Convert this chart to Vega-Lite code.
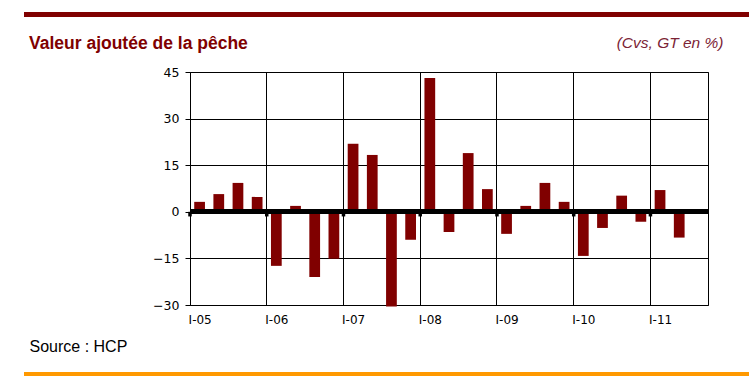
{
  "$schema": "https://vega.github.io/schema/vega-lite/v6.json",
  "background": "white",
  "padding": {"left": 24, "top": 12, "right": 0, "bottom": 0},
  "spacing": 17,
  "config": {"font": "Liberation Sans", "view": {"stroke": null}},
  "vconcat": [
    {
      "width": 725,
      "height": 5,
      "view": {"fill": "#800000", "stroke": null},
      "data": {"values": [{}]},
      "mark": {"type": "rect", "opacity": 0},
      "encoding": {}
    },
    {
      "spacing": 0,
      "hconcat": [
        {
          "width": 1,
          "height": 1,
          "view": {"stroke": null},
          "data": {"values": [{}]},
          "mark": {"type": "rect", "opacity": 0},
          "encoding": {}
        },
        {
          "width": 518,
          "height": 233,
          "view": {"stroke": "black", "strokeWidth": 1},
          "title": {
            "text": "Valeur ajoutée de la pêche",
            "anchor": "start",
            "frame": "bounds",
            "dx": 3,
            "dy": 19,
            "font": "Liberation Sans",
            "fontSize": 17.5,
            "fontWeight": "bold",
            "color": "#800000",
            "baseline": "alphabetic",
            "offset": -12
          },
          "data": {
            "values": [
              {"q": "I-05", "v": 3.2}, {"q": "II-05", "v": 5.7}, {"q": "III-05", "v": 9.3}, {"q": "IV-05", "v": 4.8},
              {"q": "I-06", "v": -17.4}, {"q": "II-06", "v": 1.9}, {"q": "III-06", "v": -21.0}, {"q": "IV-06", "v": -15.1},
              {"q": "I-07", "v": 21.9}, {"q": "II-07", "v": 18.3}, {"q": "III-07", "v": -30.5}, {"q": "IV-07", "v": -9.0},
              {"q": "I-08", "v": 43.1}, {"q": "II-08", "v": -6.5}, {"q": "III-08", "v": 18.9}, {"q": "IV-08", "v": 7.3},
              {"q": "I-09", "v": -7.1}, {"q": "II-09", "v": 1.9}, {"q": "III-09", "v": 9.3}, {"q": "IV-09", "v": 3.2},
              {"q": "I-10", "v": -14.2}, {"q": "II-10", "v": -5.2}, {"q": "III-10", "v": 5.2}, {"q": "IV-10", "v": -3.2},
              {"q": "I-11", "v": 7.0}, {"q": "II-11", "v": -8.3}
            ]
          },
          "layer": [
            {
              "mark": {"type": "bar", "color": "#800000", "width": {"band": 0.56}},
              "encoding": {
                "x": {
                  "field": "q",
                  "type": "ordinal",
                  "scale": {
                    "domain": ["I-05","II-05","III-05","IV-05","I-06","II-06","III-06","IV-06","I-07","II-07","III-07","IV-07","I-08","II-08","III-08","IV-08","I-09","II-09","III-09","IV-09","I-10","II-10","III-10","IV-10","I-11","II-11","III-11"],
                    "paddingInner": 0,
                    "paddingOuter": 0
                  },
                  "axis": {
                    "orient": "bottom",
                    "values": ["I-05","I-06","I-07","I-08","I-09","I-10","I-11"],
                    "bandPosition": 0,
                    "title": "Source : HCP",
                    "domain": false,
                    "ticks": false,
                    "labelAlign": "left",
                    "labelAngle": 0,
                    "labelPadding": 9,
                    "labelOffset": -11,
                    "labelFont": "DejaVu Sans",
                    "labelFontSize": 12,
                    "labelColor": "black",
                    "grid": true,
                    "gridColor": "black",
                    "gridWidth": 1,
                    "gridOpacity": 1,
                    "titleFont": "Liberation Sans",
                    "titleFontSize": 16,
                    "titleFontWeight": "normal",
                    "titleColor": "black",
                    "titleAlign": "left",
                    "titleAnchor": "start",
                    "titleBaseline": "alphabetic",
                    "titleX": -161,
                    "titleY": 46
                  }
                },
                "y": {
                  "field": "v",
                  "type": "quantitative",
                  "scale": {"domain": [-30, 45], "nice": false, "zero": false},
                  "axis": {
                    "values": [-30, -15, 0, 15, 30, 45],
                    "title": null,
                    "domain": false,
                    "ticks": true,
                    "tickSize": 5,
                    "tickColor": "black",
                    "tickWidth": 1,
                    "labelPadding": 6,
                    "labelFont": "DejaVu Sans",
                    "labelFontSize": 12.5,
                    "labelColor": "black",
                    "grid": true,
                    "gridColor": "black",
                    "gridWidth": 1,
                    "gridOpacity": 1,
                    "minExtent": 164
                  }
                }
              }
            },
            {
              "mark": {"type": "rule", "color": "black", "strokeWidth": 4},
              "encoding": {"y": {"datum": 0, "title": null}}
            },
            {
              "transform": [{"filter": "indexof(datum.q, 'I-') === 0"}],
              "mark": {"type": "rule", "color": "black", "strokeWidth": 3.5},
              "encoding": {
                "x": {
                  "field": "q",
                  "type": "ordinal",
                  "bandPosition": 0,
                  "axis": {
                    "orient": "top",
                    "title": "(Cvs, GT en %)",
                    "labels": false,
                    "ticks": false,
                    "domain": false,
                    "grid": false,
                    "titleFont": "Liberation Sans",
                    "titleFontSize": 15.5,
                    "titleFontStyle": "italic",
                    "titleFontWeight": "normal",
                    "titleColor": "#7b2335",
                    "titleAlign": "right",
                    "titleAnchor": "end",
                    "titleBaseline": "alphabetic",
                    "titleX": 533,
                    "titleY": -25
                  }
                },
                "y": {"datum": 0, "title": null},
                "y2": {"datum": -1.5}
              }
            }
          ],
          "resolve": {"axis": {"x": "independent"}}
        }
      ]
    },
    {
      "width": 725,
      "height": 4,
      "view": {"fill": "#FF9900", "stroke": null},
      "data": {"values": [{}]},
      "mark": {"type": "rect", "opacity": 0},
      "encoding": {}
    }
  ]
}
